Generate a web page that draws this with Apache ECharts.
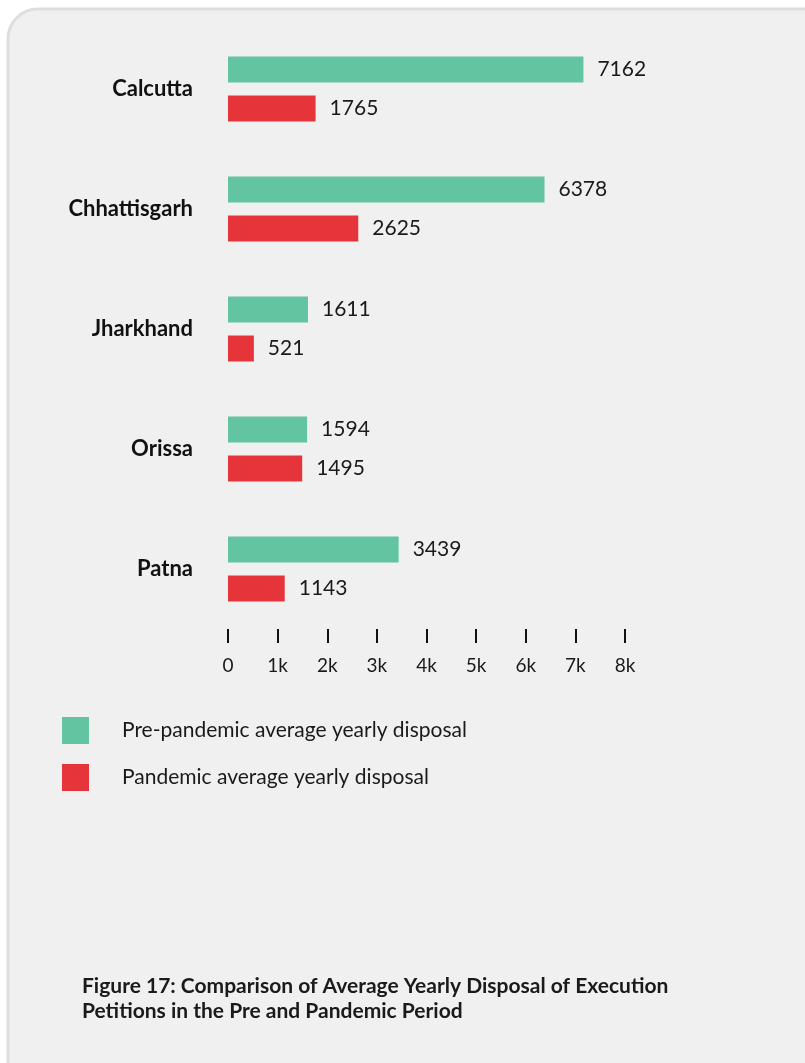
<!DOCTYPE html>
<html>
<head>
<meta charset="utf-8">
<script src="https://cdn.jsdelivr.net/npm/echarts@6/dist/echarts.min.js"></script>
<style>
  html, body { margin: 0; padding: 0; background: #ffffff; }
  #chart { width: 805px; height: 1063px; }
</style>
</head>
<body>
<div id="chart"></div>
<script>
// data
var courts = ['Calcutta', 'Chhattisgarh', 'Jharkhand', 'Orissa', 'Patna'];
var prePandemic = [7162, 6378, 1611, 1594, 3439];
var pandemic = [1765, 2625, 521, 1495, 1143];
var seriesNames = ['Pre-pandemic average yearly disposal', 'Pandemic average yearly disposal'];
var captionLines = [
    'Figure 17: Comparison of Average Yearly Disposal of Execution',
    'Petitions in the Pre and Pandemic Period'
];

var chart = echarts.init(document.getElementById('chart'));

var valueLabel = {
    show: true,
    position: 'right',
    distance: 14,
    fontFamily: 'Lato',
    fontSize: 21,
    color: '#1a1a1a'
};

chart.setOption({
    animation: false,
    textStyle: { fontFamily: 'Lato' },
    graphic: [{
        type: 'rect',
        z: -10,
        shape: { x: 8, y: 9, width: 830, height: 1090, r: 30 },
        style: { fill: '#f0f0f0', stroke: '#dedede', lineWidth: 3 }
    }, {
        type: 'text',
        left: 82,
        top: 974,
        style: {
            text: captionLines.join('\n'),
            font: 'bold 21px Lato',
            lineHeight: 25,
            fill: '#1a1a1a'
        }
    }],
    legend: {
        orient: 'vertical',
        left: 62,
        top: 717,
        padding: 0,
        icon: 'rect',
        itemWidth: 27,
        itemHeight: 27,
        itemGap: 20,
        selectedMode: false,
        textStyle: {
            fontFamily: 'Lato',
            fontSize: 21,
            color: '#1a1a1a',
            padding: [0, 0, 0, 28]
        },
        data: seriesNames
    },
    grid: {
        left: 228,
        right: 180,
        top: 29,
        bottom: 434,
        containLabel: false
    },
    xAxis: {
        type: 'value',
        min: 0,
        max: 8000,
        interval: 1000,
        axisLine: { show: false },
        axisTick: { show: true, length: 14, lineStyle: { color: '#111', width: 2 } },
        splitLine: { show: false },
        axisLabel: {
            margin: 27,
            fontFamily: 'Lato',
            fontSize: 19,
            color: '#1a1a1a',
            formatter: function (v) { return v === 0 ? '0' : (v / 1000) + 'k'; }
        }
    },
    yAxis: {
        type: 'category',
        inverse: true,
        data: courts,
        axisLine: { show: false },
        axisTick: { show: false },
        axisLabel: {
            margin: 35,
            fontFamily: 'Lato',
            fontWeight: 'bold',
            fontSize: 22,
            color: '#111'
        }
    },
    series: [{
        name: seriesNames[0],
        type: 'bar',
        data: prePandemic,
        barWidth: 26,
        barGap: '50%',
        itemStyle: { color: '#63c4a1' },
        label: valueLabel
    }, {
        name: seriesNames[1],
        type: 'bar',
        data: pandemic,
        barWidth: 26,
        itemStyle: { color: '#e5353a' },
        label: valueLabel
    }]
});
</script>
</body>
</html>
